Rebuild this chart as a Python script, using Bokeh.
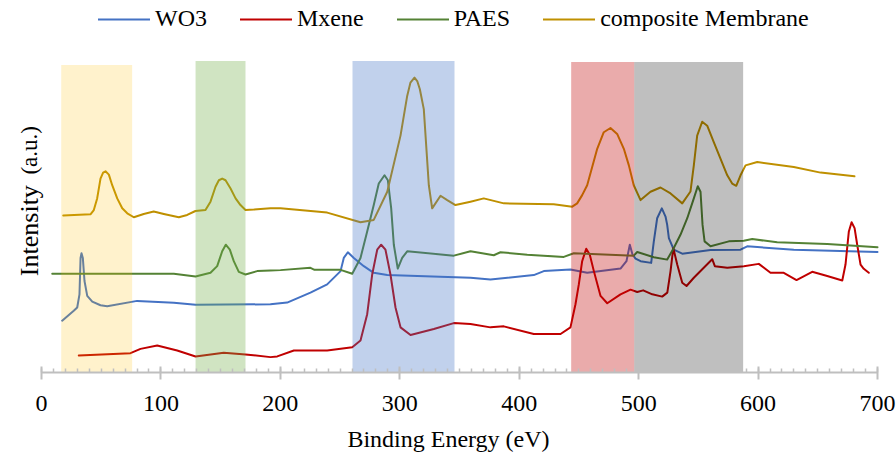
from bokeh.plotting import figure
from bokeh.models import Range1d, SingleIntervalTicker, Legend, LegendItem, Label
from bokeh.embed import file_html
from bokeh.resources import INLINE

# ---------------- data ----------------
wo3_x = [17.3, 27.0, 29.9, 31.8, 32.7, 33.5, 34.6, 36.0, 38.3, 42.5, 49.4, 55.0, 80.1, 110.8, 129.0,
         191.7, 205.7, 225.2, 239.2, 250.4, 253.1, 256.5, 261.5, 269.9, 278.2, 289.5, 359.2, 375.9, 412.2,
         420.6, 442.9, 456.9, 484.8, 489.8, 492.6, 494.9, 497.4, 501.6, 510.5, 512.7, 515.5, 519.4, 522.5,
         523.9, 525.3, 529.4, 536.5, 560.2, 585.3, 590.9, 629.9, 700.0]
wo3_y = [52.2, 62.2, 65.5, 78.8, 115.5, 120.2, 115.5, 92.2, 77.2, 71.5, 67.8, 66.8, 72.2, 70.2, 68.2,
         68.8, 70.5, 80.5, 88.8, 102.2, 115.5, 121.2, 115.5, 107.2, 100.5, 98.2, 95.5, 93.8, 98.2,
         102.2, 103.8, 100.5, 104.8, 112.2, 128.8, 118.8, 114.8, 112.2, 110.5, 132.2, 155.5, 165.5, 157.2,
         148.8, 135.5, 123.8, 119.8, 123.5, 123.8, 127.2, 123.8, 121.5]

mxene_x = [31.2, 74.5, 82.9, 96.9, 113.6, 129.0, 152.6, 170.8, 191.7, 197.4, 211.3, 239.2, 260.2, 267.1,
           272.7, 276.9, 281.1, 284.4, 288.0, 292.2, 296.4, 300.6, 309.0, 328.5, 345.2, 359.2, 375.9, 387.1,
           412.2, 434.6, 442.9, 447.1, 449.9, 452.7, 456.1, 459.1, 462.5, 468.1, 473.7, 484.8, 493.2, 498.8,
           503.8, 511.4, 519.7, 524.0, 526.7, 529.0, 532.3, 536.5, 540.1, 546.2, 561.6, 563.8, 574.2, 588.1,
           600.6, 610.4, 621.5, 632.2, 645.3, 657.9, 670.5, 673.2, 676.0, 678.3, 680.8, 683.0, 685.8, 688.5,
           692.7]
mxene_y = [17.2, 19.5, 23.8, 27.2, 22.2, 16.2, 19.8, 18.2, 15.5, 16.2, 22.2, 22.2, 25.5, 32.2,
           58.8, 98.8, 123.8, 128.8, 123.8, 98.8, 65.5, 45.5, 37.8, 43.8, 49.8, 48.8, 45.5, 46.5,
           38.8, 38.8, 45.5, 68.8, 88.8, 112.2, 124.8, 118.8, 102.2, 77.2, 69.8, 78.8, 83.5, 81.2,
           82.8, 78.8, 76.5, 80.5, 102.2, 125.5, 108.8, 90.5, 87.2, 95.5, 114.2, 107.2, 105.5, 107.2,
           109.5, 100.5, 100.5, 93.2, 101.5, 97.2, 92.8, 108.8, 142.2, 151.5, 145.5, 128.8, 108.8, 104.5,
           100.5]

paes_x = [9.0, 74.5, 110.8, 129.0, 141.5, 147.1, 151.3, 154.3, 157.7, 161.0, 165.2, 170.8, 180.6, 191.7,
          200.1, 225.2, 228.6, 250.4, 260.2, 267.1, 272.7, 278.2, 282.4, 287.2, 290.0, 292.8, 295.0, 298.3,
          302.0, 306.2, 345.2, 359.2, 378.7, 384.3, 406.7, 437.3, 445.7, 495.9, 498.8, 512.7, 523.9, 529.4,
          535.0, 540.7, 546.2, 549.5, 551.8, 553.5, 555.2, 560.2, 575.5, 588.0, 595.1, 616.0, 657.9, 700.0]
paes_y = [99.5, 99.5, 99.5, 96.8, 100.5, 107.2, 122.2, 128.8, 123.8, 112.2, 101.5, 98.8, 102.2, 102.8,
          103.2, 105.5, 103.5, 103.5, 99.5, 115.5, 142.2, 168.8, 190.5, 198.8, 193.8, 165.5, 128.8, 104.8,
          115.5, 122.2, 117.8, 122.2, 118.2, 121.2, 118.8, 116.5, 120.2, 117.8, 121.5, 116.2, 113.8, 125.5,
          138.8, 155.5, 175.5, 187.8, 182.2, 148.8, 132.2, 127.2, 132.2, 132.8, 134.5, 131.2, 129.5, 126.2]

comp_x = [18.2, 41.0, 43.8, 46.6, 49.4, 51.6, 53.6, 56.4, 59.2, 63.4, 67.6, 71.8, 77.3, 85.6, 94.0,
          102.4, 115.0, 122.0, 128.9, 137.3, 141.5, 145.7, 148.5, 151.3, 154.1, 158.3, 162.5, 166.6, 170.8,
          177.8, 191.7, 200.1, 239.2, 267.1, 278.2, 289.5, 300.6, 306.2, 308.9, 312.3, 314.6, 316.8, 320.1,
          324.3, 327.1, 334.1, 339.7, 346.6, 359.2, 370.3, 387.1, 428.9, 444.4, 448.5, 452.7, 456.9, 465.3,
          470.8, 476.4, 482.0, 487.6, 491.8, 495.9, 501.6, 509.9, 518.3, 526.7, 536.5, 543.4, 546.2, 549.0,
          553.2, 557.4, 562.9, 568.5, 574.2, 578.3, 581.7, 585.3, 589.5, 599.3, 629.9, 652.3, 680.7]
comp_y = [158.2, 159.5, 163.8, 175.5, 195.5, 201.5, 202.8, 199.5, 188.8, 175.5, 165.5, 160.5, 156.5, 159.8, 162.2,
          159.8, 156.5, 158.8, 162.8, 163.8, 172.2, 187.2, 193.8, 195.5, 193.8, 185.5, 175.5, 168.8, 163.8,
          164.2, 165.5, 165.5, 161.2, 151.5, 153.8, 182.2, 238.8, 278.8, 292.2, 297.2, 293.8, 285.5, 265.5,
          188.8, 165.5, 178.2, 173.8, 168.8, 172.2, 175.5, 170.5, 169.5, 167.2, 170.5, 178.8, 188.8, 225.5,
          242.2, 246.5, 240.5, 225.5, 208.8, 188.8, 173.8, 182.2, 186.5, 180.5, 170.5, 182.5, 208.8, 238.8,
          252.8, 248.8, 232.2, 215.5, 198.8, 190.5, 188.2, 198.8, 208.8, 212.2, 207.2, 201.5, 197.8]

series_names = ["WO3", "Mxene", "PAES", "composite Membrane"]
series_colors = ["#4472C4", "#C00000", "#548235", "#BF9000"]

band_left = [16.5, 129.0, 260.4, 443.5, 496.3]
band_right = [75.9, 170.8, 345.8, 496.3, 587.5]
band_top = [310.0, 314.0, 314.0, 313.0, 313.0]
band_colors = ["#FFC000", "#70AD47", "#4472C4", "#C00000", "#000000"]
band_alpha = [0.2, 0.33, 0.33, 0.33, 0.25]

x_ticks_interval = 100
FONT = "Liberation Serif"

# ---------------- figure ----------------
p = figure(width=896, height=454, output_backend="svg", toolbar_location=None,
           x_range=Range1d(-34.33, 715.9), y_range=Range1d(0, 375),
           min_border_left=0, min_border_right=0, min_border_top=0, min_border_bottom=79)
p.outline_line_color = None
p.grid.visible = False
p.yaxis.visible = False
p.background_fill_color = "white"

renderers = []
for xs, ys, c in [(wo3_x, wo3_y, series_colors[0]), (mxene_x, mxene_y, series_colors[1]),
                  (paes_x, paes_y, series_colors[2]), (comp_x, comp_y, series_colors[3])]:
    r = p.line(xs, ys, line_color=c, line_width=2, line_join="round", line_cap="round")
    renderers.append(r)

for l, r_, t, c, a in zip(band_left, band_right, band_top, band_colors, band_alpha):
    p.quad(left=l, right=r_, top=t, bottom=-5, fill_color=c, fill_alpha=a, line_color=None)

ax = p.xaxis[0]
ax.bounds = (0, 700)
ax.ticker = SingleIntervalTicker(interval=x_ticks_interval, num_minor_ticks=10)
ax.axis_line_color = "#BFBFBF"
ax.axis_line_width = 2
ax.major_tick_line_color = "#BFBFBF"
ax.major_tick_line_width = 2
ax.minor_tick_line_color = "#BFBFBF"
ax.minor_tick_line_width = 1.5
ax.major_tick_in = 6
ax.major_tick_out = 7
ax.minor_tick_in = 4
ax.minor_tick_out = 0
ax.major_label_text_font = FONT
ax.major_label_text_font_size = "24px"
ax.major_label_text_color = "black"
ax.major_label_standoff = 16
ax.axis_label = "Binding Energy (eV)"
ax.axis_label_text_font = FONT
ax.axis_label_text_font_size = "24px"
ax.axis_label_text_font_style = "normal"
ax.axis_label_text_color = "black"
ax.axis_label_standoff = 12

legend = Legend(items=[LegendItem(label=n, renderers=[r]) for n, r in zip(series_names, renderers)],
                orientation="horizontal", location=(98, 340), spacing=33, glyph_width=52,
                glyph_height=20, label_standoff=5, padding=0, margin=0,
                label_text_font=FONT, label_text_font_size="24px", label_text_color="black",
                background_fill_alpha=0, border_line_alpha=0)
p.add_layout(legend, "center")

p.add_layout(Label(x=-10.0, y=143, text="Intensity", angle=1.5708, text_align="center",
                   text_baseline="alphabetic", text_font=FONT, text_font_size="26px", text_color="black"))
p.add_layout(Label(x=-10.0, y=224, text="(a.u.)", angle=1.5708, text_align="center",
                   text_baseline="alphabetic", text_font=FONT, text_font_size="23px", text_color="black"))

open("out.html", "w").write(file_html(p, INLINE))
